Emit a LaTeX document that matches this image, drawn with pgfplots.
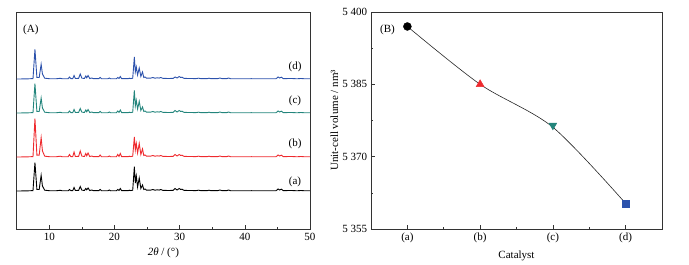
\documentclass[border=0pt]{standalone}
\usepackage{fontspec}
\setmainfont{Liberation Serif}
\usepackage{pgfplots}
\usepackage{pgfplotstable}
\pgfplotsset{compat=1.18}
\definecolor{cA}{HTML}{000000}
\definecolor{cB}{HTML}{EE2A2E}
\definecolor{cC}{HTML}{23857C}
\definecolor{cD}{HTML}{2C52AC}
\definecolor{frame}{HTML}{333333}
\newcommand\fs{\fontsize{11}{13}\selectfont}
\pgfplotstableread{
x a b c d
5.0 38.0 72.0 116.0 150.0
6.5 38.1 72.1 116.1 150.1
7.5 38.4 72.4 116.4 150.4
7.8 66.4 110.4 145.4 179.7
8.1 39.5 73.8 117.5 151.5
8.45 39.5 73.8 117.5 151.5
8.75 53.7 91.4 131.0 164.7
8.95 43.0 78.0 121.0 155.0
9.3 38.8 72.8 116.8 150.8
10.0 38.3 72.3 116.3 150.3
11.0 38.2 72.2 116.2 150.2
11.7 38.7 72.8 116.7 150.7
12.0 38.2 72.2 116.2 150.2
12.9 38.3 72.3 116.3 150.3
13.1 39.5 74.5 118.0 152.0
13.3 38.4 72.4 116.4 150.4
13.6 38.4 72.4 116.4 150.4
13.8 41.5 77.0 119.5 153.5
14.0 38.5 72.5 116.5 150.5
14.5 38.6 72.6 116.6 150.6
14.75 42.5 78.0 120.5 155.0
15.0 38.8 72.8 116.8 150.8
15.4 38.6 72.6 116.6 150.6
15.6 40.5 75.5 119.0 153.0
15.75 39.2 73.2 117.2 151.2
15.95 41.0 76.0 119.5 153.5
16.2 38.5 72.5 116.5 150.5
16.5 39.0 73.0 117.0 151.0
16.8 38.3 72.3 116.3 150.3
17.6 38.3 72.3 116.3 150.3
17.8 39.5 74.0 117.5 151.5
18.0 38.3 72.3 116.3 150.3
19.0 38.2 72.2 116.2 150.2
19.2 39.0 73.0 117.0 151.0
19.4 38.2 72.2 116.2 150.2
20.3 38.3 72.3 116.3 150.3
20.5 39.5 74.5 118.0 151.5
20.7 38.6 72.6 116.6 150.6
20.9 40.5 75.5 119.0 152.5
21.1 38.3 72.3 116.3 150.3
22.1 38.3 72.3 116.3 150.3
22.3 38.8 72.8 116.8 150.8
22.5 38.4 72.4 116.4 150.4
22.8 38.8 72.8 116.8 150.8
23.05 62.3 92.0 138.7 172.0
23.2 46.0 79.0 123.0 157.0
23.35 53.0 85.5 128.7 162.0
23.55 42.0 76.0 120.0 154.0
23.8 51.0 85.5 127.7 161.0
24.05 40.5 74.5 118.5 152.5
24.3 44.0 80.0 122.0 157.0
24.5 39.5 73.5 117.5 151.5
24.7 40.0 74.0 118.0 152.0
24.9 38.8 72.8 116.8 150.8
25.5 38.8 72.8 116.8 150.8
25.9 39.5 73.5 117.5 151.5
26.2 38.8 72.8 116.8 150.8
26.6 39.2 73.2 117.2 151.2
26.85 38.9 72.9 116.9 150.9
27.1 39.5 73.5 117.5 151.5
27.4 38.7 72.7 116.7 150.7
28.2 38.5 72.5 116.5 150.5
29.0 38.6 72.6 116.6 150.6
29.3 40.5 74.5 118.5 152.0
29.6 39.0 73.0 117.0 151.0
29.95 40.5 74.5 118.5 152.5
30.15 39.5 73.5 117.5 151.5
30.35 39.8 73.8 117.8 151.8
30.7 38.6 72.6 116.6 150.6
31.5 38.5 72.5 116.5 150.5
32.5 38.4 72.4 116.4 150.4
32.9 38.8 72.8 116.8 150.8
33.3 38.3 72.3 116.3 150.3
34.2 38.3 72.3 116.3 150.3
34.5 38.8 72.8 116.8 150.8
34.8 38.3 72.3 116.3 150.3
35.8 38.3 72.3 116.3 150.3
36.2 39.0 73.0 117.0 151.0
36.5 38.3 72.3 116.3 150.3
37.2 38.3 72.3 116.3 150.3
37.5 39.0 73.0 117.0 151.0
37.8 38.3 72.3 116.3 150.3
39.0 38.2 72.2 116.2 150.2
41.0 38.3 72.3 116.3 150.3
43.0 38.2 72.2 116.2 150.2
44.8 38.3 72.3 116.3 150.3
45.1 40.0 74.0 118.0 152.0
45.35 39.0 73.0 117.0 151.0
45.6 39.8 73.8 117.8 151.8
45.9 38.4 72.4 116.4 150.4
47.2 38.5 72.5 116.5 150.5
48.0 38.2 72.2 116.2 150.2
48.6 38.5 72.5 116.5 150.5
49.2 38.2 72.2 116.2 150.2
50.0 38.2 72.2 116.2 150.2
}\xrd
\begin{document}
\fs
\begin{tikzpicture}[font=\fs]
\useasboundingbox (0,0) rectangle (689pt,265pt);
\pgfplotsset{
  every axis/.append style={
    scale only axis,
    axis line style={frame, line width=0.7pt},
    tick style={frame, line width=0.6pt},
    tick align=inside,
    major tick length=3.5pt,
    minor tick length=2pt,
    tick pos=left,
    /pgf/number format/assume math mode=true,
    tick label style={font=\fs},
    label style={font=\fs},
  }
}
\begin{axis}[
  at={(16.7pt,36pt)}, anchor=south west,
  width=293.3pt, height=217pt,
  xmin=5, xmax=50, ymin=0, ymax=217,
  xtick={10,20,30,40,50},
  minor xtick={15,25,35,45},
  ytick=\empty,
  xlabel={\textit{2θ} / (°)},
  clip=true,
]
\addplot[cA, line width=0.9pt] table[x=x, y=a] {\xrd};
\addplot[cB, line width=0.9pt] table[x=x, y=b] {\xrd};
\addplot[cC, line width=0.9pt] table[x=x, y=c] {\xrd};
\addplot[cD, line width=0.9pt] table[x=x, y=d] {\xrd};
\node[inner sep=0pt, anchor=west] at (axis cs:5.97,199) {(A)};
\node at (axis cs:47.7,47) {(a)};
\node at (axis cs:47.7,85) {(b)};
\node at (axis cs:47.7,128.3) {(c)};
\node at (axis cs:47.7,162.3) {(d)};
\end{axis}
\begin{axis}[
  at={(371pt,36pt)}, anchor=south west,
  width=291pt, height=217pt,
  xmin=-0.5, xmax=3.5, ymin=5355, ymax=5400,
  xtick={0,1,2,3},
  xticklabels={(a),(b),(c),(d)},
  minor xtick={0.5,1.5,2.5},
  ytick={5355,5370,5385,5400},
  yticklabels={5\ 355,5\ 370,5\ 385,5\ 400},
  minor ytick={5362.5,5377.5,5392.5},
  xlabel={Catalyst},
  ylabel={Unit-cell volume / nm³},
  ylabel style={at={(axis description cs:-0.126,0.5)}, anchor=center},
  clip=false,
]
\addplot[black!85, line width=0.6pt, smooth] coordinates {(0,5397.0) (1,5385.0) (2,5376.1) (3,5360.3)};
\addplot[only marks, mark=*, mark size=4pt, black] coordinates {(0,5397.0)};
\addplot[only marks, mark=triangle*, mark size=4.6pt, cB, mark options={fill=cB, draw=cB}] coordinates {(1,5385.0)};
\addplot[only marks, mark=triangle*, mark size=4.6pt, cC, mark options={rotate=180, fill=cC, draw=cC}] coordinates {(2,5376.5)};
\addplot[only marks, mark=square*, mark size=3.7pt, cD, mark options={fill=cD, draw=cD}] coordinates {(3,5360.3)};
\node[inner sep=0pt, anchor=west] at (axis cs:-0.376,5396.4) {(B)};
\end{axis}
\end{tikzpicture}
\end{document}
